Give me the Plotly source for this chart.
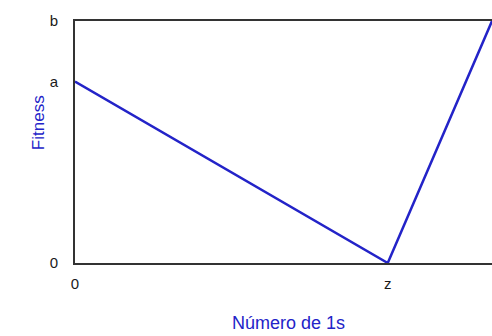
import plotly.graph_objects as go

# Data
x_values = [0, 75, 100]
fitness = [0.75, 0, 1]
x_tickvals = [0, 75]
x_ticktext = ["0", "z"]
y_tickvals = [0, 0.75, 1]
y_ticktext = ["0", "a", "b"]
x_title = "Número de 1s"
y_title = "Fitness"

blue = "#2323c8"

fig = go.Figure()
fig.add_trace(go.Scatter(
    x=x_values, y=fitness, mode="lines",
    line=dict(color=blue, width=2.5),
    showlegend=False, cliponaxis=False,
))

fig.update_layout(
    width=492, height=336,
    margin=dict(l=75, r=0, t=21, b=73),
    paper_bgcolor="white", plot_bgcolor="white",
    font=dict(family="Arial, Liberation Sans, sans-serif", size=15, color="#1a1a1a"),
)
fig.update_xaxes(
    range=[0, 100], showgrid=False, zeroline=False,
    showline=True, linecolor="#333", linewidth=2, mirror=True,
    tickmode="array", tickvals=x_tickvals, ticktext=x_ticktext,
    ticks="", ticklabelstandoff=6,
)
fig.update_yaxes(
    range=[0, 1], showgrid=False, zeroline=False,
    showline=True, linecolor="#333", linewidth=2,
    tickmode="array", tickvals=y_tickvals, ticktext=y_ticktext,
    ticks="", ticklabelstandoff=12,
)

fig.add_annotation(
    text=x_title, xref="paper", yref="paper", x=0.511, y=-0.248,
    xanchor="center", yanchor="middle", showarrow=False,
    font=dict(color=blue, size=18),
)
fig.add_annotation(
    text=y_title, xref="paper", yref="paper", x=-0.0887, y=0.578,
    xanchor="center", yanchor="middle", showarrow=False, textangle=-90,
    font=dict(color=blue, size=17),
)

fig.write_html(
    "out.html",
    config={"displayModeBar": False},
    post_script="document.body.style.margin='0';document.body.style.padding='0';",
)
